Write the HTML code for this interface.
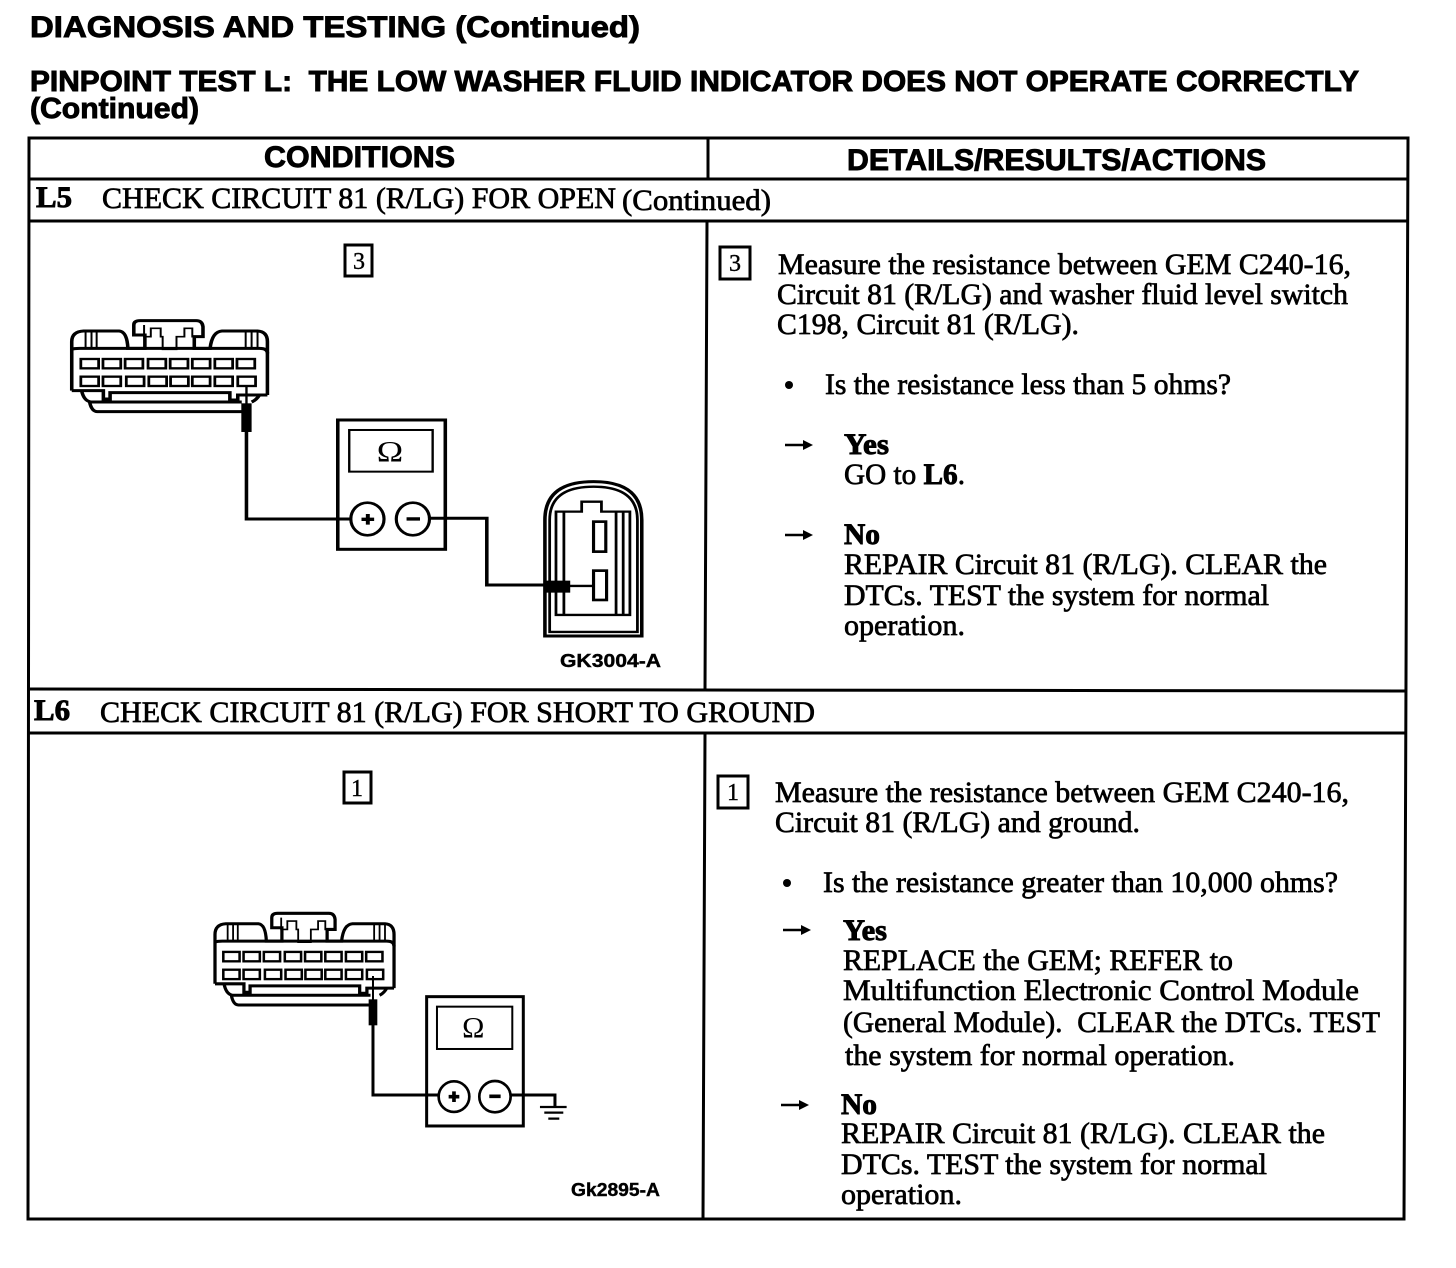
<!DOCTYPE html>
<html><head><meta charset="utf-8"><title>Pinpoint Test L</title>
<style>
html,body{margin:0;padding:0;background:#fff;width:1456px;height:1268px;overflow:hidden}
svg{display:block}
.h{font-family:"Liberation Sans",sans-serif;font-weight:bold;fill:#000;stroke:#000;stroke-width:.9}
.t{font-family:"Liberation Serif",serif;font-size:30px;fill:#000;stroke:#000;stroke-width:.7}
.b{font-weight:bold;stroke-width:.9}
.s{font-family:"Liberation Sans",sans-serif;font-weight:bold;font-size:18px;fill:#000;stroke:#000;stroke-width:.4}
.n{font-family:"Liberation Serif",serif;font-size:24px;fill:#000;text-anchor:middle;stroke:#000;stroke-width:.4}
.o{font-size:90px;font-family:"Liberation Serif",serif;fill:#000;text-anchor:middle}
.l{fill:none;stroke:#000;stroke-width:3}
</style></head><body>
<svg width="1456" height="1268" viewBox="0 0 1456 1268" xmlns="http://www.w3.org/2000/svg">
<defs>
<g id="conn" fill="none" stroke="#000" stroke-width="9">
<path d="M55 272V125Q55 95 85 93H175Q195 95 197 145H240V105H212V75Q212 62 228 62H370Q385 62 387 80V110H365V145H405Q410 95 435 93H525Q550 95 550 125V285"/>
<path d="M55 148Q60 145 75 145H530Q550 145 550 160"/>
<path d="M55 272H80Q85 300 100 305Q105 335 120 335H490M80 272H135V297H152V278H455V300H475V285H550M100 306H485M530 285Q522 300 510 306"/>
<path stroke-width="5" d="M90 95V145M105 95V145M118 95V145M495 95V145M510 95V145M525 95V145M238 75V110H255V85H280V110H285V148H320V110H340V85H360V110H365"/>
<g stroke-width="7">
<rect x="78" y="177" width="45" height="28"/><rect x="134" y="177" width="45" height="28"/><rect x="190" y="177" width="45" height="28"/><rect x="248" y="177" width="45" height="28"/><rect x="304" y="177" width="45" height="28"/><rect x="360" y="177" width="45" height="28"/><rect x="417" y="177" width="45" height="28"/><rect x="473" y="177" width="45" height="28"/>
<rect x="78" y="230" width="45" height="28"/><rect x="134" y="230" width="45" height="28"/><rect x="193" y="230" width="45" height="28"/><rect x="250" y="230" width="45" height="28"/><rect x="305" y="230" width="45" height="28"/><rect x="360" y="230" width="45" height="28"/><rect x="417" y="230" width="45" height="28"/><rect x="475" y="230" width="45" height="28"/>
</g>
</g>
</defs>

<!-- Page headings -->
<text class="h" x="30" y="37" font-size="30" textLength="610" lengthAdjust="spacingAndGlyphs">DIAGNOSIS AND TESTING (Continued)</text>
<text class="h" x="30" y="91" font-size="29" textLength="1329" lengthAdjust="spacingAndGlyphs" xml:space="preserve">PINPOINT TEST L:  THE LOW WASHER FLUID INDICATOR DOES NOT OPERATE CORRECTLY</text>
<text class="h" x="30" y="118" font-size="29" textLength="169" lengthAdjust="spacingAndGlyphs">(Continued)</text>

<!-- Table -->
<path class="l" d="M29 138H1408L1404 1219H28Z"/>
<path class="l" d="M708 138V179M707 221L705 690M705 733L703 1219"/>
<path class="l" d="M29 179H1407M29 221H1407M29 689L1406 691M29 733H1406"/>

<text class="h" x="264" y="167" font-size="30" textLength="191" lengthAdjust="spacingAndGlyphs">CONDITIONS</text>
<text class="h" x="847" y="170" font-size="30" textLength="419" lengthAdjust="spacingAndGlyphs">DETAILS/RESULTS/ACTIONS</text>

<text class="t b" x="36" y="207" textLength="36" lengthAdjust="spacingAndGlyphs">L5</text>
<text class="t" x="102" y="208" textLength="514" lengthAdjust="spacingAndGlyphs">CHECK CIRCUIT 81 (R/LG) FOR OPEN</text>
<text class="t" x="622" y="210" textLength="149" lengthAdjust="spacingAndGlyphs">(Continued)</text>
<text class="t b" x="34" y="720" textLength="36" lengthAdjust="spacingAndGlyphs">L6</text>
<text class="t" x="100" y="722" textLength="715" lengthAdjust="spacingAndGlyphs">CHECK CIRCUIT 81 (R/LG) FOR SHORT TO GROUND</text>

<!-- Number boxes -->
<rect class="l" x="345" y="245" width="27" height="31"/><text class="n" x="359" y="269">3</text>
<rect class="l" x="720" y="247" width="30" height="32"/><text class="n" x="735" y="271">3</text>
<rect class="l" x="344" y="772" width="27" height="31"/><text class="n" x="357" y="796">1</text>
<rect class="l" x="718" y="776" width="30" height="32"/><text class="n" x="733" y="800">1</text>

<!-- Diagram L5 -->
<g transform="translate(50,300) scale(.3953,.3333)">
<use href="#conn"/>
<path d="M497 258V312" fill="none" stroke="#000" stroke-width="6"/>
<rect x="484" y="310" width="26" height="86" fill="#000"/>
<g fill="none" stroke="#000" stroke-width="9">
<path d="M497 395V657H762"/>
<path d="M960 655H1105V855H1250"/>
<rect x="728" y="360" width="272" height="388"/>
</g>
<rect x="757" y="390" width="211" height="125" fill="none" stroke="#000" stroke-width="6"/>
<text class="o" x="860" y="484">Ω</text>
<ellipse cx="803" cy="657" rx="42" ry="49" fill="#fff" stroke="#000" stroke-width="8"/>
<ellipse cx="918" cy="657" rx="42" ry="49" fill="#fff" stroke="#000" stroke-width="8"/>
<path d="M788 658H820M804 642V674M902 657H936" stroke="#000" stroke-width="10" fill="none"/>
<g fill="none" stroke="#000" stroke-width="7">
<path stroke-width="9" d="M1252 1008V660Q1252 545 1375 545Q1497 545 1497 660V1008Z"/>
<path d="M1264 996V660Q1264 560 1375 560Q1486 560 1486 660V996Z"/>
<path d="M1280 945V635H1345V605H1395V635H1467V945Z"/>
<path d="M1300 635V945M1432 635V945M1450 635V945"/>
<rect x="1375" y="665" width="31" height="90" stroke-width="8"/>
<rect x="1375" y="812" width="33" height="88" stroke-width="8"/>
</g>
<rect x="1250" y="842" width="66" height="36" fill="#000"/>
<path d="M1315 858H1372" stroke="#000" stroke-width="7"/>
</g>
<text class="s" x="560" y="667" textLength="101" lengthAdjust="spacingAndGlyphs">GK3004-A</text>

<!-- Diagram L6 -->
<g transform="translate(195.1,892.5) scale(.3617,.3357)"><use href="#conn"/></g>
<g transform="translate(200,900) scale(.3333)">
<path d="M519 228V300" fill="none" stroke="#000" stroke-width="6"/>
<rect x="506" y="298" width="26" height="78" fill="#000"/>
<g fill="none" stroke="#000" stroke-width="9">
<path d="M519 375V585H718"/>
<path d="M930 585H1065V622"/>
<rect x="680" y="290" width="290" height="388"/>
</g>
<rect x="711" y="320" width="226" height="127" fill="none" stroke="#000" stroke-width="6"/>
<text class="o" x="820" y="412">Ω</text>
<circle cx="762" cy="590" r="46" fill="#fff" stroke="#000" stroke-width="8"/>
<circle cx="885" cy="590" r="47" fill="#fff" stroke="#000" stroke-width="8"/>
<path d="M746 590H778M762 574V606M868 589H902" stroke="#000" stroke-width="11" fill="none"/>
<path d="M1020 621H1100M1033 638H1090M1045 656H1078" stroke="#000" stroke-width="7" fill="none"/>
</g>
<text class="s" x="571" y="1196" textLength="89" lengthAdjust="spacingAndGlyphs">Gk2895-A</text>

<!-- L5 right -->
<text class="t" x="778" y="274" textLength="573" lengthAdjust="spacingAndGlyphs">Measure the resistance between GEM C240-16,</text>
<text class="t" x="777" y="304" textLength="571" lengthAdjust="spacingAndGlyphs">Circuit 81 (R/LG) and washer fluid level switch</text>
<text class="t" x="777" y="334" textLength="302" lengthAdjust="spacingAndGlyphs">C198, Circuit 81 (R/LG).</text>
<circle cx="789" cy="385" r="4" fill="#000"/>
<text class="t" x="825" y="394" textLength="406" lengthAdjust="spacingAndGlyphs">Is the resistance less than 5 ohms?</text>
<path d="M785 445H808" stroke="#000" stroke-width="2.5"/><path d="M803 440L813 445L803 450Z" fill="#000"/>
<text class="t b" x="844" y="454" textLength="45" lengthAdjust="spacingAndGlyphs">Yes</text>
<text class="t" x="844" y="484" textLength="121" lengthAdjust="spacingAndGlyphs">GO to <tspan class="b">L6</tspan>.</text>
<path d="M785 535H808" stroke="#000" stroke-width="2.5"/><path d="M803 530L813 535L803 540Z" fill="#000"/>
<text class="t b" x="844" y="544" textLength="36" lengthAdjust="spacingAndGlyphs">No</text>
<text class="t" x="844" y="574" textLength="483" lengthAdjust="spacingAndGlyphs">REPAIR Circuit 81 (R/LG). CLEAR the</text>
<text class="t" x="844" y="605" textLength="425" lengthAdjust="spacingAndGlyphs">DTCs. TEST the system for normal</text>
<text class="t" x="844" y="635" textLength="121" lengthAdjust="spacingAndGlyphs">operation.</text>

<!-- L6 right -->
<text class="t" x="775" y="802" textLength="574" lengthAdjust="spacingAndGlyphs">Measure the resistance between GEM C240-16,</text>
<text class="t" x="775" y="832" textLength="365" lengthAdjust="spacingAndGlyphs">Circuit 81 (R/LG) and ground.</text>
<circle cx="787" cy="883" r="4" fill="#000"/>
<text class="t" x="823" y="892" textLength="515" lengthAdjust="spacingAndGlyphs">Is the resistance greater than 10,000 ohms?</text>
<path d="M783 930H806" stroke="#000" stroke-width="2.5"/><path d="M801 925L811 930L801 935Z" fill="#000"/>
<text class="t b" x="843" y="940" textLength="44" lengthAdjust="spacingAndGlyphs">Yes</text>
<text class="t" x="843" y="970" textLength="390" lengthAdjust="spacingAndGlyphs">REPLACE the GEM; REFER to</text>
<text class="t" x="843" y="1000" textLength="516" lengthAdjust="spacingAndGlyphs">Multifunction Electronic Control Module</text>
<text class="t" x="843" y="1032" textLength="537" lengthAdjust="spacingAndGlyphs" xml:space="preserve">(General Module).  CLEAR the DTCs. TEST</text>
<text class="t" x="845" y="1065" textLength="390" lengthAdjust="spacingAndGlyphs">the system for normal operation.</text>
<path d="M781 1105H804" stroke="#000" stroke-width="2.5"/><path d="M799 1100L809 1105L799 1110Z" fill="#000"/>
<text class="t b" x="841" y="1114" textLength="36" lengthAdjust="spacingAndGlyphs">No</text>
<text class="t" x="841" y="1143" textLength="484" lengthAdjust="spacingAndGlyphs">REPAIR Circuit 81 (R/LG). CLEAR the</text>
<text class="t" x="841" y="1174" textLength="426" lengthAdjust="spacingAndGlyphs">DTCs. TEST the system for normal</text>
<text class="t" x="841" y="1204" textLength="121" lengthAdjust="spacingAndGlyphs">operation.</text>
</svg>
</body></html>
